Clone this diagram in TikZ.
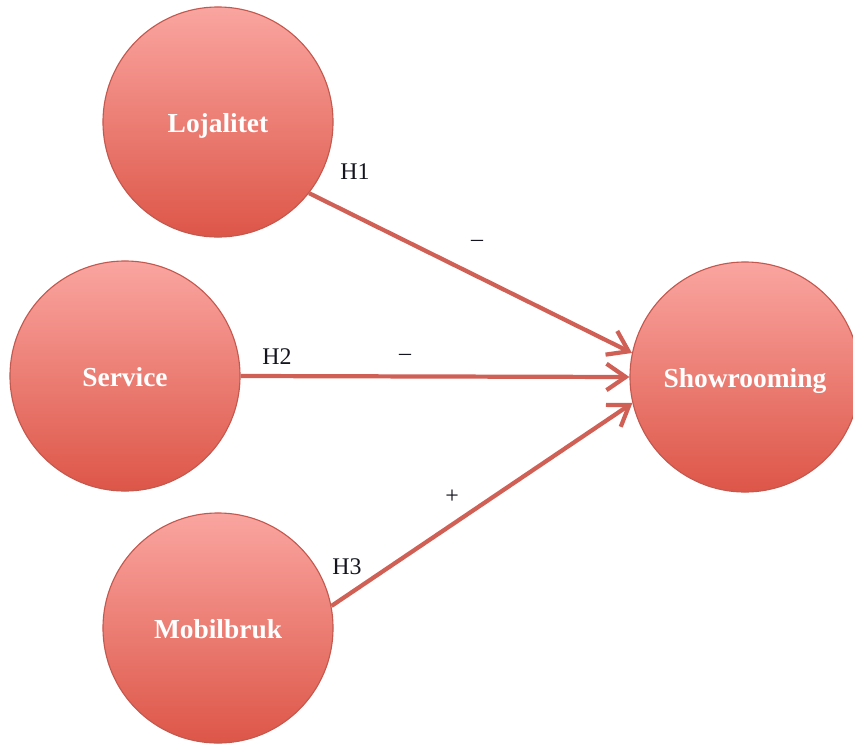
\documentclass[tikz,border=0pt]{standalone}
\usepackage{fontspec}
\setmainfont{Liberation Serif}
\usepackage{xcolor}
\usetikzlibrary{arrows.meta,positioning}

\definecolor{circtop}{RGB}{250,165,160}
\definecolor{circbot}{RGB}{221,86,72}
\definecolor{circline}{RGB}{196,88,78}
\definecolor{linkred}{RGB}{208,96,86}
\definecolor{labelink}{RGB}{20,20,30}

\begin{document}
\begin{tikzpicture}[x=0.025cm, y=-0.025cm,
    construct/.style={circle, draw=circline, thick, minimum size=5.75cm, top color=circtop, bottom color=circbot, text=white, text height=0.66cm, text depth=0.12cm, font=\fontsize{19.5}{22}\selectfont\bfseries},
    hyp/.style={text=labelink, font=\fontsize{17}{20}\selectfont},
    link/.style={-{Straight Barb[length=0.48cm, width=0.66cm, line width=3pt]}, linkred, line width=3pt}]

\useasboundingbox (0,0) rectangle (853,749);

% Constructs (left)
\node[construct] (loj) at (218,122) {Lojalitet};
\node[construct] (serv) at (125,376) {Service};
\node[construct] (mob) at (218,628) {Mobilbruk};

% Outcome (right)
\node[construct] (show) at (745,377) {Showrooming};

% Hypotheses
\draw[link] (loj.-38) -- (show.168);
\draw[link] (serv.east) -- (show.west);
\draw[link] (mob.11) -- (show.-167);

% Labels
\node[hyp] (h1) at (355,172) {H1};
\node[hyp] (s1) at (477,243) {--};
\node[hyp] (h2) at (277,357) {H2};
\node[hyp] (s2) at (405,357) {--};
\node[hyp] (h3) at (347,567) {H3};
\node[hyp] (s3) at (452,497) {+};

\end{tikzpicture}
\end{document}
